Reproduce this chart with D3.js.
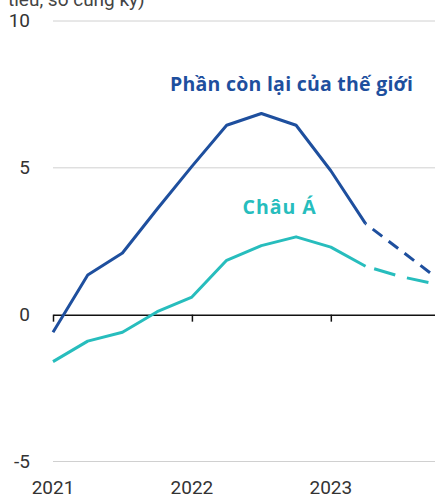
<!DOCTYPE html>
<html>
<head>
<meta charset="utf-8">
<script src="https://cdn.jsdelivr.net/npm/d3@7"></script>
<style>
  body { margin: 0; background: #fff; }
  svg { display: block; }
  .tick-label { font-family: Roboto, sans-serif; font-size: 19px; fill: #333; }
  .series-label { font-family: "Open Sans", sans-serif; font-weight: 700; font-size: 19.5px; }
</style>
</head>
<body>
<svg width="435" height="498"></svg>
<script>
// quarters from 2021 Q1 to 2023 Q4
const quarters = ['2021Q1','2021Q2','2021Q3','2021Q4','2022Q1','2022Q2','2022Q3','2022Q4','2023Q1','2023Q2','2023Q3','2023Q4'];
const restOfWorld = [-0.6, 1.35, 2.1, 3.6, 5.05, 6.45, 6.85, 6.45, 4.9, 3.1, 2.2, 1.3];
const asia = [-1.6, -0.9, -0.6, 0.1, 0.6, 1.85, 2.35, 2.65, 2.3, 1.65, 1.3, 1.05];
const lastActual = 9; // after this point the series are forecasts (dashed)
const yTicks = [10, 5, 0, -5];
const yearTicks = [{ label: '2021', q: 0 }, { label: '2022', q: 4 }, { label: '2023', q: 8 }];
const axisTitle = 'tiêu, so cùng kỳ)';

const svg = d3.select('svg');
const width = +svg.attr('width');

const margin = { top: 21, left: 53, bottom: 461.5 };

const x = d3.scaleLinear()
  .domain([0, quarters.length - 1])
  .range([margin.left, width]);

const y = d3.scaleLinear()
  .domain([-5, 10])
  .range([margin.bottom, margin.top]);

// cut-off axis title at the very top (cropped in the original too)
svg.append('text')
  .attr('class', 'tick-label')
  .attr('x', 8)
  .attr('y', 6)
  .style('fill', '#444')
  .text(axisTitle);

// grid lines
svg.append('g')
  .selectAll('line')
  .data(yTicks.filter(d => d !== 0))
  .enter()
  .append('line')
  .attr('x1', margin.left)
  .attr('x2', width)
  .attr('y1', d => y(d))
  .attr('y2', d => y(d))
  .attr('stroke', '#d0d0d0')
  .attr('stroke-width', 1);

// y labels
svg.append('g')
  .selectAll('text')
  .data(yTicks)
  .enter()
  .append('text')
  .attr('class', 'tick-label')
  .attr('x', 30)
  .attr('y', d => y(d))
  .attr('dy', '0.32em')
  .attr('text-anchor', 'end')
  .text(d => d);

// zero line with year ticks
const xAxis = d3.axisBottom(x)
  .tickValues(yearTicks.map(d => d.q))
  .tickSize(7)
  .tickSizeOuter(0)
  .tickFormat('');

const xag = svg.append('g')
  .attr('transform', `translate(0, ${y(0)})`)
  .call(xAxis);
xag.select('.domain').attr('stroke', '#111').attr('stroke-width', 1.5);
xag.selectAll('.tick line').attr('stroke', '#111').attr('stroke-width', 1.5);

svg.append('g')
  .selectAll('text')
  .data(yearTicks)
  .enter()
  .append('text')
  .attr('class', 'tick-label')
  .attr('x', d => x(d.q))
  .attr('y', 494)
  .attr('text-anchor', 'middle')
  .text(d => d.label);

// series
const line = d3.line()
  .x(d => x(d.i))
  .y(d => y(d.v));

const series = [
  { name: 'Phần còn lại của thế giới', values: restOfWorld, color: '#1e4f9e', dash: '12,8', lx: 3.37, ly: 7.61, len: 243 },
  { name: 'Châu Á', values: asia, color: '#27bdbd', dash: '22,12', lx: 5.46, ly: 3.43, len: 73 }
];

series.forEach(s => {
  const pts = s.values.map((v, i) => ({ i: i, v: v }));
  svg.append('path')
    .datum(pts.slice(0, lastActual + 1))
    .attr('d', line)
    .attr('fill', 'none')
    .attr('stroke', s.color)
    .attr('stroke-width', 3)
    .attr('stroke-linejoin', 'round');
  svg.append('path')
    .datum(pts.slice(lastActual))
    .attr('d', line)
    .attr('fill', 'none')
    .attr('stroke', s.color)
    .attr('stroke-width', 3)
    .attr('stroke-dasharray', s.dash)
    .attr('stroke-dashoffset', -9);

  svg.append('text')
    .attr('class', 'series-label')
    .attr('x', x(s.lx))
    .attr('y', y(s.ly))
    .attr('fill', s.color)
    .attr('textLength', s.len)
    .attr('lengthAdjust', 'spacing')
    .text(s.name);
});
</script>
</body>
</html>
